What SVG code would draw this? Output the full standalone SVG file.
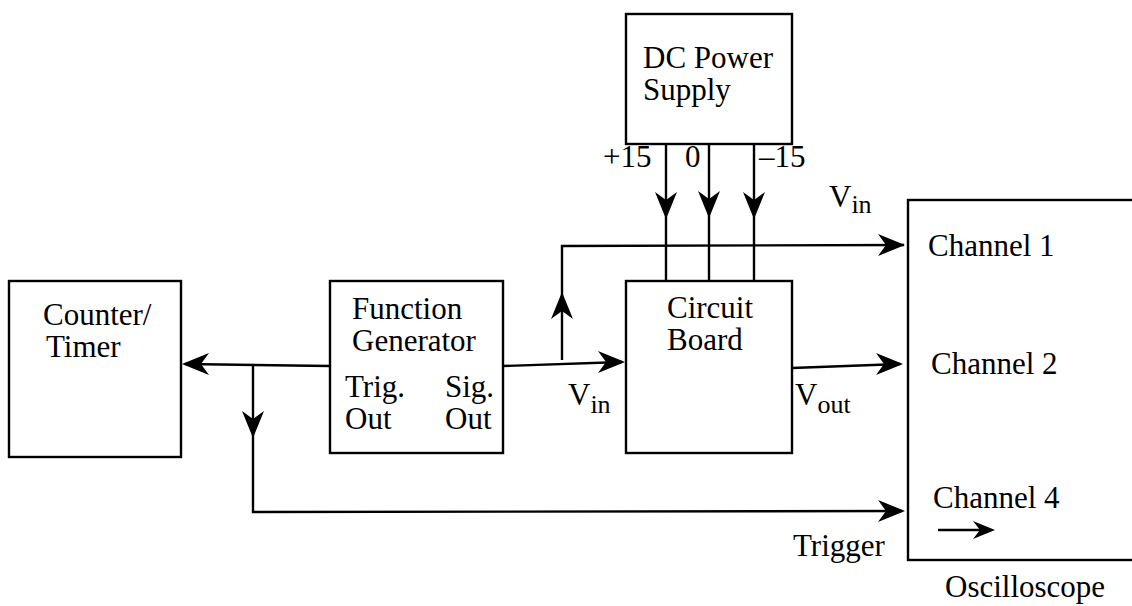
<svg xmlns="http://www.w3.org/2000/svg" width="1132" height="606" viewBox="0 0 1132 606" font-family="'Liberation Serif', Tinos, 'Times New Roman', Times, 'DejaVu Serif', serif">
<style>
.box{fill:#fff;stroke:#000;stroke-width:2.4}
.ln{fill:none;stroke:#000;stroke-width:2.4}
text{font-size:31px;fill:#000}
.sub{font-size:26px}
</style>
<defs>
<path id="ah" d="M0,0 L-27,-11 L-19,0 L-27,11 Z" fill="#000"/>
<path id="ahs" d="M0,0 L-22,-9 L-15,0 L-22,9 Z" fill="#000"/>
</defs>
<rect width="1132" height="606" fill="#fff"/>
<g id="connectors">
<line class="ln" x1="666" y1="144" x2="666" y2="281"/>
<line class="ln" x1="709" y1="144" x2="709" y2="281"/>
<line class="ln" x1="754" y1="144" x2="754" y2="281"/>
<use href="#ah" transform="translate(666,219) rotate(90)"/>
<use href="#ah" transform="translate(709,218) rotate(90)"/>
<use href="#ah" transform="translate(754,219) rotate(90)"/>
<polyline class="ln" points="562,360 562,246 904,245"/>
<use href="#ah" transform="translate(905,245)"/>
<use href="#ah" transform="translate(562,292) rotate(-90)"/>
<line class="ln" x1="503" y1="366" x2="622" y2="362"/>
<use href="#ah" transform="translate(625,362)"/>
<line class="ln" x1="330" y1="366" x2="185" y2="364"/>
<use href="#ah" transform="translate(182,364) rotate(180)"/>
<polyline class="ln" points="253,365 253,512 902,511"/>
<use href="#ah" transform="translate(253,438) rotate(90)"/>
<use href="#ah" transform="translate(905,511)"/>
<line class="ln" x1="792" y1="368" x2="900" y2="364"/>
<use href="#ah" transform="translate(903,364)"/>
</g>
<g id="dc-power-supply">
<rect class="box" x="626" y="14" width="166" height="130"/>
<text x="643" y="68">DC Power</text>
<text x="643" y="100">Supply</text>
<text x="603" y="167">+15</text>
<text x="685" y="167">0</text>
<text x="759" y="167">–15</text>
</g>
<g id="counter-timer">
<rect class="box" x="9" y="281" width="172" height="176"/>
<text x="43" y="325">Counter/</text>
<text x="46" y="357">Timer</text>
</g>
<g id="function-generator">
<rect class="box" x="330" y="281" width="173" height="172"/>
<text x="352" y="319">Function</text>
<text x="352" y="351">Generator</text>
<text x="345" y="397">Trig.</text>
<text x="345" y="429">Out</text>
<text x="445" y="397">Sig.</text>
<text x="445" y="429">Out</text>
</g>
<g id="circuit-board">
<rect class="box" x="626" y="281" width="166" height="172"/>
<text x="667" y="318">Circuit</text>
<text x="667" y="350">Board</text>
</g>
<g id="oscilloscope">
<rect class="box" x="908" y="200" width="240" height="360"/>
<text x="928" y="256">Channel 1</text>
<text x="931" y="374">Channel 2</text>
<text x="933" y="508">Channel 4</text>
<line class="ln" x1="938" y1="530" x2="980" y2="530"/>
<use href="#ahs" transform="translate(995,530)"/>
<text x="945" y="597">Oscilloscope</text>
</g>
<g id="labels">
<text x="829" y="207">V<tspan class="sub" dy="6">in</tspan></text>
<text x="568" y="405">V<tspan class="sub" dy="8">in</tspan></text>
<text x="795" y="405">V<tspan class="sub" dy="8">out</tspan></text>
<text x="793" y="556">Trigger</text>
</g>
</svg>
